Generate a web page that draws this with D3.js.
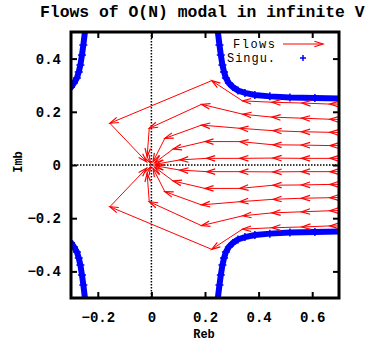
<!DOCTYPE html>
<html>
<head>
<meta charset="utf-8">
<script src="https://cdn.jsdelivr.net/npm/d3@7"></script>
<style>
  body { margin: 0; background: #fff; }
  svg { display: block; }
  text { font-family: "Liberation Mono", "DejaVu Sans Mono", monospace; }
</style>
</head>
<body>
<div id="chart"></div>
<script>
// tick values
const x_ticks = [-0.2, 0, 0.2, 0.4, 0.6];
const y_ticks = [-0.4, -0.2, 0, 0.2, 0.4];

// flows (first point lies past the right edge)
const flow_1 = [[0.77, 0.229], [0.666, 0.229], [0.562, 0.233], [0.450, 0.236], [0.340, 0.241], [0.225, 0.317], [-0.155, 0.157], [-0.018, 0.012]];
const flow_2 = [[0.77, 0.170], [0.666, 0.172], [0.560, 0.176], [0.450, 0.180], [0.341, 0.191], [0.187, 0.228], [-0.008, 0.138], [-0.016, 0.031], [-0.003, 0.006]];
const flow_3 = [[0.77, 0.121], [0.666, 0.123], [0.560, 0.125], [0.454, 0.129], [0.330, 0.138], [0.187, 0.150], [0.050, 0.100], [0.006, 0.012]];
const flow_4 = [[0.77, 0.072], [0.666, 0.073], [0.560, 0.075], [0.454, 0.076], [0.330, 0.088], [0.200, 0.088], [0.081, 0.060], [0.012, 0.008]];
const flow_5 = [[0.77, 0.025], [0.666, 0.025], [0.560, 0.025], [0.454, 0.026], [0.330, 0.025], [0.206, 0.025], [0.106, 0.019], [0.015, 0.003]];
const flow_6 = [[0.77, -0.025], [0.666, -0.025], [0.560, -0.025], [0.454, -0.026], [0.330, -0.025], [0.206, -0.025], [0.106, -0.019], [0.015, -0.003]];
const flow_7 = [[0.77, -0.072], [0.666, -0.073], [0.560, -0.075], [0.454, -0.076], [0.330, -0.088], [0.200, -0.088], [0.081, -0.060], [0.012, -0.008]];
const flow_8 = [[0.77, -0.121], [0.666, -0.123], [0.560, -0.125], [0.454, -0.129], [0.330, -0.138], [0.187, -0.150], [0.050, -0.100], [0.006, -0.012]];
const flow_9 = [[0.77, -0.170], [0.666, -0.172], [0.560, -0.176], [0.450, -0.180], [0.341, -0.191], [0.187, -0.228], [-0.008, -0.138], [-0.016, -0.031], [-0.003, -0.006]];
const flow_10 = [[0.77, -0.229], [0.666, -0.229], [0.562, -0.233], [0.450, -0.236], [0.340, -0.241], [0.225, -0.317], [-0.155, -0.157], [-0.018, -0.012]];

// singular points
const singu_top_right = [[0.248, 0.52], [0.248, 0.5], [0.254, 0.451], [0.259, 0.414], [0.265, 0.376], [0.271, 0.350], [0.278, 0.327], [0.289, 0.308], [0.304, 0.293], [0.323, 0.280], [0.349, 0.271], [0.386, 0.263], [0.442, 0.258], [0.517, 0.254], [0.610, 0.252], [0.700, 0.250], [0.72, 0.250]];
const singu_bottom_right = [[0.248, -0.52], [0.248, -0.5], [0.254, -0.451], [0.259, -0.414], [0.265, -0.376], [0.271, -0.350], [0.278, -0.327], [0.289, -0.308], [0.304, -0.293], [0.323, -0.280], [0.349, -0.271], [0.386, -0.263], [0.442, -0.258], [0.517, -0.254], [0.610, -0.252], [0.700, -0.250], [0.72, -0.250]];
const singu_top_left = [[-0.31, 0.285], [-0.300, 0.292], [-0.289, 0.308], [-0.278, 0.327], [-0.271, 0.350], [-0.265, 0.376], [-0.259, 0.414], [-0.254, 0.451], [-0.248, 0.5], [-0.248, 0.52]];
const singu_bottom_left = [[-0.31, -0.285], [-0.300, -0.292], [-0.289, -0.308], [-0.278, -0.327], [-0.271, -0.350], [-0.265, -0.376], [-0.259, -0.414], [-0.254, -0.451], [-0.248, -0.5], [-0.248, -0.52]];

const flows = [flow_1, flow_2, flow_3, flow_4, flow_5, flow_6, flow_7, flow_8, flow_9, flow_10];
const singu = [singu_top_right, singu_bottom_right, singu_top_left, singu_bottom_left];

const width = 367, height = 343;
const margin = { left: 71, top: 32, right: 28, bottom: 45 };
const plot_w = width - margin.left - margin.right;
const plot_h = height - margin.top - margin.bottom;

const red = "#ff0000", blue = "#0000ff";

const svg = d3.select("#chart").append("svg")
    .attr("width", width)
    .attr("height", height);

const x_scale = d3.scaleLinear().domain([-0.3, 0.7]).range([0, plot_w]);
const y_scale = d3.scaleLinear().domain([-0.5, 0.5]).range([plot_h, 0]);

svg.append("defs").append("clipPath").attr("id", "clip")
  .append("rect").attr("width", plot_w).attr("height", plot_h);

const plot = svg.append("g").attr("transform", `translate(${margin.left},${margin.top})`);

// zero axes (dotted)
plot.append("line")
    .attr("x1", 0).attr("x2", plot_w)
    .attr("y1", y_scale(0)).attr("y2", y_scale(0))
    .attr("stroke", "#000").attr("stroke-width", 1.5).attr("stroke-dasharray", "1.5,1.5");
plot.append("line")
    .attr("x1", x_scale(0)).attr("x2", x_scale(0))
    .attr("y1", 0).attr("y2", plot_h)
    .attr("stroke", "#000").attr("stroke-width", 1.5).attr("stroke-dasharray", "1.5,1.5");

const inner = plot.append("g").attr("clip-path", "url(#clip)");

// singular curves
const line = d3.line().x(d => x_scale(d[0])).y(d => y_scale(d[1]));
singu.forEach(branch => {
  inner.append("path")
      .attr("d", line(branch))
      .attr("fill", "none")
      .attr("stroke", blue)
      .attr("stroke-width", 6);
  inner.selectAll(null)
      .data(branch)
      .enter().append("path")
      .attr("d", d => {
        const px = x_scale(d[0]), py = y_scale(d[1]);
        return `M${px - 4},${py}H${px + 4}M${px},${py - 4}V${py + 4}`;
      })
      .attr("stroke", blue)
      .attr("stroke-width", 1.5);
});

// arrow with open head, drawn from p0 to p1 (pixel coords)
function drawArrow(g, x0, y0, x1, y1) {
  const head_len = 9, head_ang = Math.PI / 10;
  const ang = Math.atan2(y1 - y0, x1 - x0);
  const ax = x1 - head_len * Math.cos(ang - head_ang), ay = y1 - head_len * Math.sin(ang - head_ang);
  const bx = x1 - head_len * Math.cos(ang + head_ang), by = y1 - head_len * Math.sin(ang + head_ang);
  g.append("line")
      .attr("x1", x0).attr("y1", y0).attr("x2", x1).attr("y2", y1)
      .attr("stroke", red).attr("stroke-width", 1);
  g.append("path")
      .attr("d", `M${ax},${ay}L${x1},${y1}L${bx},${by}`)
      .attr("fill", "none").attr("stroke", red).attr("stroke-width", 1.2);
}

flows.forEach(flow => {
  for (let i = 1; i < flow.length; i++) {
    drawArrow(inner, x_scale(flow[i - 1][0]), y_scale(flow[i - 1][1]), x_scale(flow[i][0]), y_scale(flow[i][1]));
  }
});

// axes: ticks on all four sides, pointing inward
const fmt = d => d === 0 ? "0" : d3.format(".1f")(d);
const x_axis = plot.append("g").attr("transform", `translate(0,${plot_h})`)
    .call(d3.axisBottom(x_scale).tickValues(x_ticks).tickSize(-6).tickPadding(14).tickFormat(fmt));
const y_axis = plot.append("g")
    .call(d3.axisLeft(y_scale).tickValues(y_ticks).tickSize(-6).tickPadding(10).tickFormat(fmt));
plot.append("g")
    .call(d3.axisTop(x_scale).tickValues(x_ticks).tickSize(-6).tickFormat(""));
plot.append("g").attr("transform", `translate(${plot_w},0)`)
    .call(d3.axisRight(y_scale).tickValues(y_ticks).tickSize(-6).tickFormat(""));

plot.selectAll(".domain").remove();
plot.selectAll(".tick line").attr("stroke", "#000").attr("stroke-width", 2);
plot.selectAll(".tick text")
    .attr("font-family", "Liberation Mono")
    .attr("font-size", 14)
    .attr("font-weight", "bold")
    .attr("fill", "#000");

// border
plot.append("rect")
    .attr("width", plot_w).attr("height", plot_h)
    .attr("fill", "none").attr("stroke", "#000").attr("stroke-width", 3);

// title and axis labels
svg.append("text")
    .attr("x", 40).attr("y", 17)
    .attr("font-size", 16.4).attr("font-weight", "bold")
    .text("Flows of O(N) modal in infinite V");
svg.append("text")
    .attr("x", 204).attr("y", 338)
    .attr("text-anchor", "middle")
    .attr("font-size", 12).attr("font-weight", "bold")
    .text("Reb");
svg.append("text")
    .attr("transform", "translate(22,162) rotate(-90)")
    .attr("text-anchor", "middle")
    .attr("font-size", 12).attr("font-weight", "bold")
    .text("Imb");

// legend
const legend = svg.append("g");
legend.append("text")
    .attr("x", 275).attr("y", 47.5)
    .attr("text-anchor", "end").attr("font-size", 12)
    .attr("textLength", 42)
    .text("Flows");
drawArrow(legend, 283, 44, 323, 44);
legend.append("text")
    .attr("x", 275).attr("y", 61.5)
    .attr("text-anchor", "end").attr("font-size", 12)
    .attr("textLength", 48)
    .text("Singu.");
legend.append("path")
    .attr("d", "M300,58H306M303,55V61")
    .attr("stroke", blue).attr("stroke-width", 1.5);
</script>
</body>
</html>
